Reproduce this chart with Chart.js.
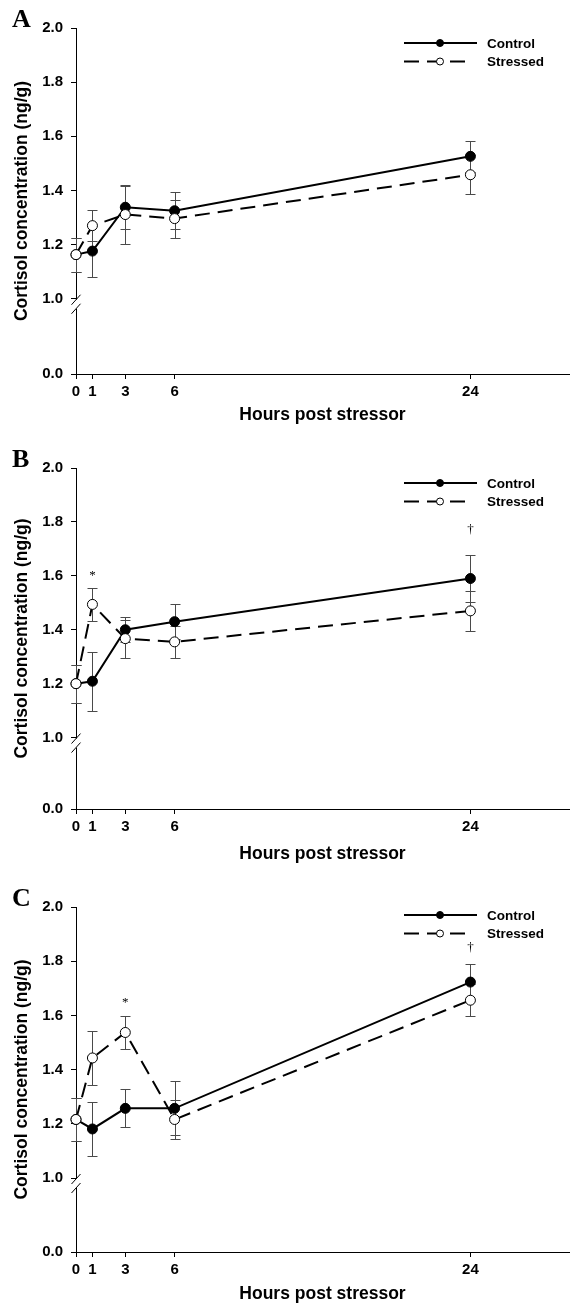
<!DOCTYPE html>
<html lang="en">
<head>
<meta charset="UTF-8">
<title>Cortisol concentration</title>
<style>
  html, body { margin: 0; padding: 0; background: #fff; overflow: hidden; }
  canvas { display: block; }
</style>
</head>
<body>
<canvas id="chartA" width="575" height="440"></canvas>
<canvas id="chartB" width="575" height="439"></canvas>
<canvas id="chartC" width="575" height="440"></canvas>

<script src="https://cdn.jsdelivr.net/npm/chart.js"></script>
<script>
// hours after the stressor
const hours = [0, 1, 3, 6, 24];
const xTicks = [0, 1, 3, 6, 24];
const yTicks = [0.0, 1.0, 1.2, 1.4, 1.6, 1.8, 2.0];
const seriesNames = ['Control', 'Stressed'];

// panel A
const controlA = [1.163, 1.176, 1.338, 1.325, 1.526];
const controlErrA = [0.063, 0.097, 0.080, 0.068, 0.058];
const stressedA = [1.163, 1.270, 1.311, 1.296, 1.458];
const stressedErrA = [0.063, 0.056, 0.110, 0.070, 0.072];
const marksA = [null, null, null, null, null];

// panel B
const controlB = [1.200, 1.209, 1.400, 1.430, 1.590];
const controlErrB = [0.070, 0.110, 0.046, 0.066, 0.088];
const stressedB = [1.200, 1.494, 1.367, 1.355, 1.470];
const stressedErrB = [0.070, 0.060, 0.070, 0.060, 0.075];
const marksB = [null, '*', null, null, '\u2020'];
const markHeightB = [null, 1.60, null, null, 1.77];

// panel C
const controlC = [1.216, 1.181, 1.257, 1.257, 1.723];
const controlErrC = [0.080, 0.100, 0.070, 0.100, 0.066];
const stressedC = [1.216, 1.443, 1.537, 1.216, 1.656];
const stressedErrC = [0.080, 0.100, 0.060, 0.072, 0.060];
const marksC = [null, null, '*', null, '\u2020'];
const markHeightC = [null, null, 1.646, null, 1.85];

const SANS = '"Liberation Sans", Arial, sans-serif';
const SERIF = '"Liberation Serif", "Times New Roman", serif';

// error bars go under the lines and markers
const errorBars = {
  id: 'errorBars',
  beforeDatasetsDraw(chart) {
    const {ctx, scales: {x, y}} = chart;
    ctx.save();
    ctx.strokeStyle = '#4a4a4a';
    ctx.lineWidth = 1;
    chart.data.datasets.forEach(ds => {
      ds.data.forEach((p, i) => {
        const e = ds.errors[i];
        const px = Math.round(x.getPixelForValue(p.x)) + 0.5;
        const t = Math.round(y.getPixelForValue(p.y + e)) + 0.5;
        const b = Math.round(y.getPixelForValue(p.y - e)) + 0.5;
        ctx.beginPath();
        ctx.moveTo(px, t); ctx.lineTo(px, b);
        ctx.moveTo(px - 5, t); ctx.lineTo(px + 5, t);
        ctx.moveTo(px - 5, b); ctx.lineTo(px + 5, b);
        ctx.stroke();
      });
    });
    ctx.restore();
  }
};

// axis break, legend, significance marks, panel letter
const decorations = {
  id: 'decorations',
  afterDraw(chart) {
    const {ctx, scales: {x, y}, chartArea} = chart;
    const opts = chart.options.plugins.decorations;
    ctx.save();

    // break on the y axis just under 1.0
    const y1 = y.getPixelForValue(1.0);
    const ax = chartArea.left;
    ctx.fillStyle = '#fff';
    ctx.fillRect(ax - 1.5, y1 + 1, 3, 9);
    ctx.strokeStyle = '#000';
    ctx.lineWidth = 1;
    ctx.beginPath();
    ctx.moveTo(ax - 4.5, y1 + 6); ctx.lineTo(ax + 4.5, y1 - 4);
    ctx.moveTo(ax - 4.5, y1 + 15); ctx.lineTo(ax + 4.5, y1 + 5);
    ctx.stroke();

    // legend
    const lx0 = 404, lx1 = 477, tx = 487;
    chart.data.datasets.slice().sort((a, b) => a.legendRow - b.legendRow).forEach((ds, row) => {
      const ly = opts.legendY + row * 18.5;
      ctx.strokeStyle = '#000';
      ctx.lineWidth = 2;
      ctx.setLineDash(ds.borderDash || []);
      ctx.beginPath();
      ctx.moveTo(lx0, ly); ctx.lineTo(ds.borderDash ? 467 : lx1, ly);
      ctx.stroke();
      ctx.setLineDash([]);
      ctx.beginPath();
      ctx.arc(440, ly, 3.5, 0, Math.PI * 2);
      ctx.fillStyle = ds.pointBackgroundColor;
      ctx.fill();
      ctx.lineWidth = 1;
      ctx.stroke();
      ctx.fillStyle = '#000';
      ctx.font = 'bold 13.5px ' + SANS;
      ctx.textAlign = 'left';
      ctx.textBaseline = 'middle';
      ctx.fillText(ds.label, tx, ly + 1);
    });

    // significance marks
    ctx.fillStyle = '#000';
    ctx.font = '13px ' + SERIF;
    ctx.textAlign = 'center';
    ctx.textBaseline = 'middle';
    opts.marks.forEach((m, i) => {
      if (!m) return;
      ctx.fillText(m, x.getPixelForValue(hours[i]), y.getPixelForValue(opts.markHeights[i]));
    });

    // panel letter
    ctx.font = 'bold 26px ' + SERIF;
    ctx.textAlign = 'left';
    ctx.textBaseline = 'alphabetic';
    ctx.fillText(opts.letter, 12, 27);
    ctx.restore();
  }
};

function makePanel(id, letter, control, controlErr, stressed, stressedErr, marks, markHeights, plotBottom, breakAt, legendY) {
  const canvas = document.getElementById(id);
  const H = canvas.height;
  new Chart(canvas, {
    type: 'line',
    data: {
      datasets: [
        {
          label: seriesNames[1],
          legendRow: 1,
          data: hours.map((h, i) => ({x: h, y: stressed[i]})),
          errors: stressedErr,
          borderColor: '#000',
          borderWidth: 2,
          borderDash: [15, 8],
          pointRadius: 5,
          pointBackgroundColor: '#fff',
          pointBorderColor: '#000',
          pointBorderWidth: 1,
          order: 0
        },
        {
          label: seriesNames[0],
          legendRow: 0,
          data: hours.map((h, i) => ({x: h, y: control[i]})),
          errors: controlErr,
          borderColor: '#000',
          borderWidth: 2,
          pointRadius: 5,
          pointBackgroundColor: '#000',
          pointBorderColor: '#000',
          pointBorderWidth: 1,
          order: 1
        }
      ]
    },
    options: {
      responsive: false,
      animation: false,
      devicePixelRatio: 1,
      clip: false,
      layout: { padding: { top: 28, right: 3, left: 0, bottom: 0 } },
      plugins: {
        legend: { display: false },
        tooltip: { enabled: false },
        decorations: { letter, marks, markHeights, legendY }
      },
      scales: {
        x: {
          type: 'linear',
          min: 0,
          max: 30,
          afterBuildTicks: s => { s.ticks = xTicks.map(v => ({value: v})); },
          afterFit: s => { s.height = H - plotBottom; },
          grid: { drawOnChartArea: false, drawTicks: true, tickLength: 5, color: '#000' },
          border: { display: true, color: '#000', width: 1 },
          ticks: {
            color: '#000',
            padding: 4,
            maxRotation: 0,
            font: { family: SANS, size: 15, weight: 'bold' },
            callback: v => String(v)
          },
          title: {
            display: true,
            text: 'Hours post stressor',
            color: '#000',
            font: { family: SANS, size: 17.5, weight: 'bold' },
            padding: { top: 0, bottom: 14 }
          }
        },
        y: {
          type: 'linear',
          min: breakAt,
          max: 2.0,
          // 0.0 sits below the break, the others are true values
          afterBuildTicks: s => { s.ticks = yTicks.map(v => ({value: v === 0 ? breakAt : v})); },
          afterFit: s => { s.width = 76; },
          grid: { drawOnChartArea: false, drawTicks: true, tickLength: 5, color: '#000' },
          border: { display: true, color: '#000', width: 1 },
          ticks: {
            color: '#000',
            padding: 8,
            font: { family: SANS, size: 15, weight: 'bold' },
            callback: v => (v === breakAt ? 0 : v).toFixed(1)
          },
          title: {
            display: true,
            text: 'Cortisol concentration (ng/g)',
            color: '#000',
            font: { family: SANS, size: 17.5, weight: 'bold' },
            padding: { top: 12, bottom: 0 }
          }
        }
      }
    },
    plugins: [errorBars, decorations]
  });
}

makePanel('chartA', 'A', controlA, controlErrA, stressedA, stressedErrA, marksA, [], 374, 0.722, 43);
makePanel('chartB', 'B', controlB, controlErrB, stressedB, stressedErrB, marksB, markHeightB, 369, 0.735, 43);
makePanel('chartC', 'C', controlC, controlErrC, stressedC, stressedErrC, marksC, markHeightC, 373, 0.727, 36);
</script>
</body>
</html>
